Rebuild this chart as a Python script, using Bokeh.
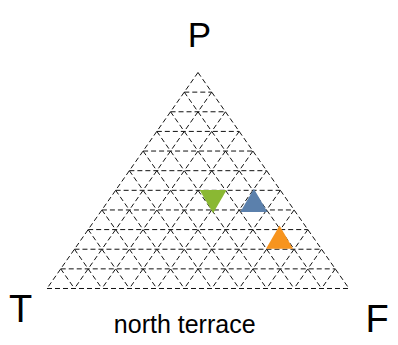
import numpy as np
from bokeh.plotting import figure
from bokeh.models import Range1d, Label
from bokeh.embed import file_html
from bokeh.resources import INLINE

# ---- data (ternary compositions: P, T, F) ----
samples = ["s1", "s2", "s3"]
P_vals = [0.42, 0.39, 0.22]
T_vals = [0.24, 0.12, 0.12]
F_vals = [0.34, 0.49, 0.66]
markers = ["inverted_triangle", "triangle", "triangle"]
colors = ["#8AB833", "#5B80AC", "#F7941E"]
vertex_labels = ["P", "T", "F"]
title_text = "north terrace"
n_div = 11


def to_xy(P, T, F):
    P = np.asarray(P, float)
    F = np.asarray(F, float)
    return F + P / 2.0, P


p = figure(width=398, height=345, output_backend="svg", toolbar_location=None,
           x_range=Range1d(-0.15397, 1.16391), y_range=Range1d(-0.26389, 1.33333),
           min_border=0, outline_line_color=None)
p.axis.visible = False
p.xgrid.visible = False
p.ygrid.visible = False
p.background_fill_color = "white"

# grid lines (including the triangle border)
xs, ys = [], []
for k in range(0, n_div):
    f = k / n_div
    a = to_xy(f, 1 - f, 0); b = to_xy(f, 0, 1 - f)
    xs.append([float(a[0]), float(b[0])]); ys.append([float(a[1]), float(b[1])])
    a = to_xy(1 - f, f, 0); b = to_xy(0, f, 1 - f)
    xs.append([float(a[0]), float(b[0])]); ys.append([float(a[1]), float(b[1])])
    a = to_xy(1 - f, 0, f); b = to_xy(0, 1 - f, f)
    xs.append([float(a[0]), float(b[0])]); ys.append([float(a[1]), float(b[1])])
p.multi_line(xs, ys, line_color="#111111", line_width=1, line_dash="5 3")

# data points
px, py = to_xy(P_vals, T_vals, F_vals)
for i in range(len(samples)):
    p.scatter([float(px[i])], [float(py[i])], marker=markers[i], size=27,
              fill_color=colors[i], line_color=None)

font = "Liberation Sans"
p.add_layout(Label(x=0.505, y=1.1759, text=vertex_labels[0], text_align="center",
                   text_baseline="alphabetic", text_font=font, text_font_size="35px",
                   text_color="black"))
p.add_layout(Label(x=-0.0877, y=-0.0972, text=vertex_labels[1], text_align="center",
                   text_baseline="alphabetic", text_font=font, text_font_size="38px",
                   text_color="black"))
p.add_layout(Label(x=1.0934, y=-0.1435, text=vertex_labels[2], text_align="center",
                   text_baseline="alphabetic", text_font=font, text_font_size="38px",
                   text_color="black"))
p.add_layout(Label(x=0.456, y=-0.1630, text=title_text, text_align="center",
                   text_baseline="alphabetic", text_font=font, text_font_size="25px",
                   text_color="black"))

open("out.html", "w").write(file_html(p, INLINE))
